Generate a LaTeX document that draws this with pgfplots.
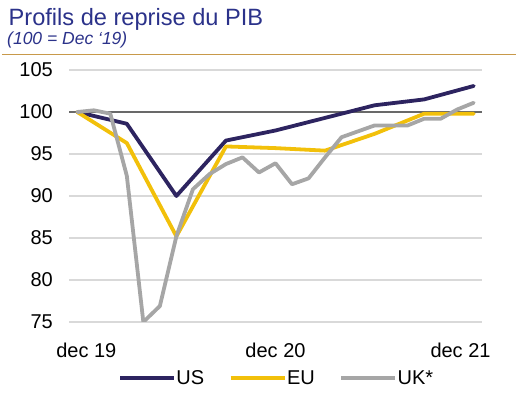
\documentclass[border=0pt]{standalone}
\usepackage{fontspec}
\setmainfont{Liberation Sans}
\usepackage{pgfplots}
\pgfplotsset{compat=1.18}
\definecolor{titleblue}{RGB}{43,50,138}
\definecolor{usnavy}{RGB}{45,36,96}
\definecolor{euyellow}{RGB}{242,192,10}
\definecolor{ukgray}{RGB}{166,166,166}
\definecolor{gridgray}{RGB}{217,217,217}
\definecolor{basegray}{RGB}{105,105,105}
\definecolor{goldrule}{RGB}{200,153,74}
\begin{document}
\begin{tikzpicture}
\useasboundingbox (0,0) rectangle (523bp,394bp);
\node[anchor=base west, inner sep=0pt, text=titleblue, font=\fontsize{23.6bp}{28bp}\selectfont] at (8.5bp,368bp) {Profils de reprise du PIB};
\node[anchor=base west, inner sep=0pt, text=titleblue, font=\fontsize{17.5bp}{21bp}\selectfont\itshape] at (7bp,349bp) {(100 = Dec ‘19)};
\draw[goldrule, line width=1.5bp] (2bp,339.7bp) -- (516bp,339.7bp);
\begin{axis}[
  at={(69bp,72bp)}, anchor=south west,
  scale only axis, width=413bp, height=252bp,
  xmin=-0.5, xmax=24.5, ymin=75, ymax=105,
  axis line style={draw=none},
  tick style={draw=none},
  major tick length=0pt,
  ytick={75,80,85,90,95,100,105},
  xtick={0.55,12,23.2},
  xticklabels={dec 19,dec 20,dec 21},
  ymajorgrids,
  major grid style={draw=gridgray, line width=1.5bp},
  extra y ticks={100},
  extra y tick labels={},
  extra y tick style={grid=major, major grid style={draw=basegray, line width=2bp}},
  /pgf/number format/assume math mode=true,
  ticklabel style={font=\fontsize{20bp}{24bp}\selectfont, inner sep=0pt},
  yticklabel style={anchor=east, xshift=-16bp},
  xticklabel style={anchor=base, yshift=-35bp},
  legend style={draw=none, fill=none, at={(0.1186,-0.222)}, anchor=west,
    legend columns=3, font=\fontsize{20bp}{24bp}\selectfont,
    inner xsep=0pt, inner ysep=0pt, nodes={inner sep=0.5bp},
    /tikz/every odd column/.append style={column sep=0bp},
    /tikz/every even column/.append style={column sep=24bp}},
  legend image code/.code={\draw[#1, line cap=butt] (0bp,0bp) -- (54bp,0bp);},
  every axis plot/.append style={line width=3.8bp, line join=round, line cap=round},
]
\addplot[color=usnavy] coordinates {
(0,100) (3,98.6) (6,90.0) (9,96.6) (12,97.8) (15,99.3) (18,100.8) (21,101.5) (24,103.1)};
\addlegendentry{US}
\addplot[color=euyellow] coordinates {
(0,100) (3,96.3) (6,85.2) (9,95.9) (12,95.7) (15,95.4) (18,97.4) (21,99.8) (24,99.8)};
\addlegendentry{EU}
\addplot[color=ukgray] coordinates {
(0,100) (1,100.2) (2,99.8) (3,92.4) (4,75.0) (5,76.9) (6,85.2) (7,90.8) (8,92.6)
(9,93.8) (10,94.6) (11,92.8) (12,93.9) (13,91.4) (14,92.1) (15,94.6) (16,97.0)
(17,97.7) (18,98.4) (19,98.4) (20,98.4) (21,99.2) (22,99.2) (23,100.3) (24,101.1)};
\addlegendentry{UK*}
\end{axis}
\end{tikzpicture}
\end{document}
